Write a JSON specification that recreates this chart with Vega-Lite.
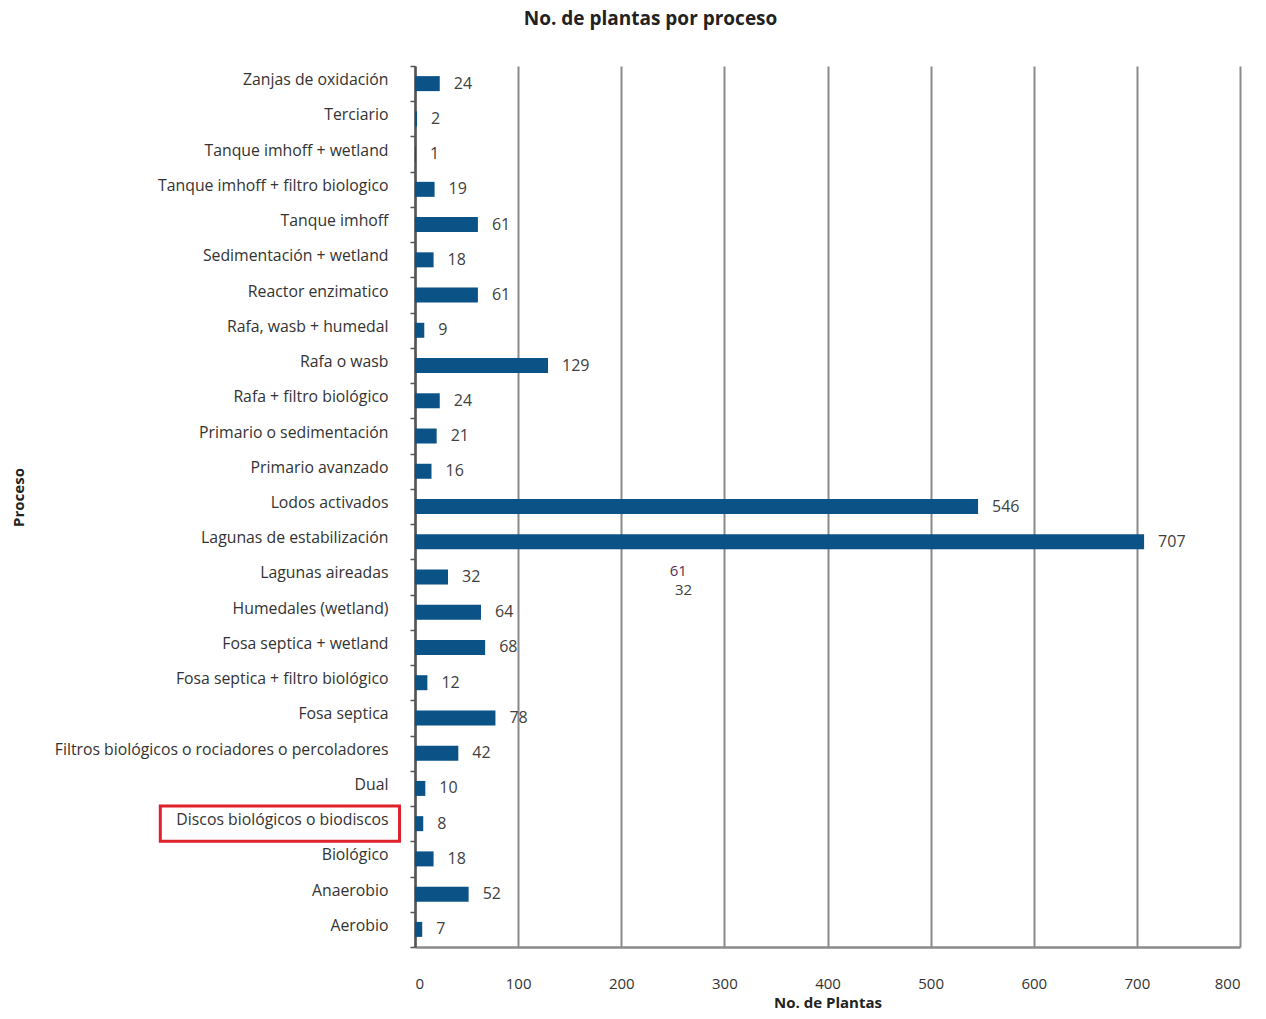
{
  "$schema": "https://vega.github.io/schema/vega-lite/v6.json",
  "width": 825,
  "height": 881,
  "autosize": {"type": "none"},
  "padding": {"left": 415, "top": 66, "right": 26, "bottom": 72},
  "background": "white",
  "config": {
    "font": "Open Sans",
    "view": {"stroke": null}
  },
  "title": {
    "text": "No. de plantas por proceso",
    "font": "Open Sans",
    "fontSize": 19,
    "fontWeight": "bold",
    "color": "#222222",
    "anchor": "middle",
    "dx": -177,
    "offset": 29
  },
  "data": {
    "values": [
      {"proceso": "Zanjas de oxidación", "plantas": 24},
      {"proceso": "Terciario", "plantas": 2},
      {"proceso": "Tanque imhoff + wetland", "plantas": 1},
      {"proceso": "Tanque imhoff + filtro biologico", "plantas": 19},
      {"proceso": "Tanque imhoff", "plantas": 61},
      {"proceso": "Sedimentación  + wetland", "plantas": 18},
      {"proceso": "Reactor enzimatico", "plantas": 61},
      {"proceso": "Rafa, wasb + humedal", "plantas": 9},
      {"proceso": "Rafa o wasb", "plantas": 129},
      {"proceso": "Rafa + filtro biológico", "plantas": 24},
      {"proceso": "Primario o sedimentación", "plantas": 21},
      {"proceso": "Primario avanzado", "plantas": 16},
      {"proceso": "Lodos activados", "plantas": 546},
      {"proceso": "Lagunas de estabilización", "plantas": 707},
      {"proceso": "Lagunas aireadas", "plantas": 32},
      {"proceso": "Humedales (wetland)", "plantas": 64},
      {"proceso": "Fosa septica + wetland", "plantas": 68},
      {"proceso": "Fosa septica + filtro biológico", "plantas": 12},
      {"proceso": "Fosa septica", "plantas": 78},
      {"proceso": "Filtros biológicos o rociadores o percoladores", "plantas": 42},
      {"proceso": "Dual", "plantas": 10},
      {"proceso": "Discos biológicos o biodiscos", "plantas": 8},
      {"proceso": "Biológico", "plantas": 18},
      {"proceso": "Anaerobio", "plantas": 52},
      {"proceso": "Aerobio", "plantas": 7}
    ]
  },
  "encoding": {
    "y": {
      "field": "proceso",
      "type": "nominal",
      "sort": null,
      "scale": {"paddingInner": 0, "paddingOuter": 0},
      "axis": {
        "title": "Proceso",
        "titleFont": "Open Sans",
        "titleFontSize": 15,
        "titleFontWeight": "bold",
        "titleColor": "#222222",
        "titleX": -397,
        "titleY": 431,
        "titleAngle": -90,
        "titleAlign": "center",
        "titleBaseline": "middle",
        "labelFont": "Open Sans",
        "labelFontSize": 15.8,
        "labelColor": "#333333",
        "labelPadding": 22,
        "labelOffset": -4,
        "labelLimit": 500,
        "tickBand": "extent",
        "tickSize": 5,
        "tickColor": "#555555",
        "tickWidth": 1.5,
        "domainColor": "#555555",
        "domainWidth": 2.5,
        "grid": false
      }
    },
    "x": {
      "field": "plantas",
      "type": "quantitative",
      "scale": {"domain": [0, 800], "nice": false},
      "axis": {
        "title": "No. de Plantas",
        "titleFont": "Open Sans",
        "titleFontSize": 15,
        "titleFontWeight": "bold",
        "titleColor": "#222222",
        "titlePadding": 4,
        "values": [0, 100, 200, 300, 400, 500, 600, 700, 800],
        "labelFont": "Open Sans",
        "labelFontSize": 15,
        "labelColor": "#333333",
        "labelPadding": 29,
        "ticks": false,
        "domainColor": "#8a8a8a",
        "domainWidth": 2.5,
        "grid": true,
        "gridColor": "#8a8a8a",
        "gridWidth": 2
      }
    }
  },
  "layer": [
    {
      "mark": {"type": "bar", "color": "#0b5287", "size": 15}
    },
    {
      "mark": {"type": "text", "align": "left", "baseline": "middle", "dx": 14, "fontSize": 16, "color": "#404040", "font": "Open Sans"},
      "encoding": {"text": {"field": "plantas", "type": "quantitative"}}
    },
    {
      "data": {"values": [{"proceso": "Lagunas aireadas", "plantas": 247, "etiqueta": "61"}]},
      "mark": {"type": "text", "align": "left", "baseline": "middle", "dy": -6, "fontSize": 15, "color": "#5a3050", "font": "Open Sans"},
      "encoding": {"text": {"field": "etiqueta", "type": "nominal"}}
    },
    {
      "data": {"values": [{"proceso": "Lagunas aireadas", "plantas": 252, "etiqueta": "32"}]},
      "mark": {"type": "text", "align": "left", "baseline": "middle", "dy": 13, "fontSize": 15, "color": "#404040", "font": "Open Sans"},
      "encoding": {"text": {"field": "etiqueta", "type": "nominal"}}
    },
    {
      "data": {"values": [{"proceso": "Discos biológicos o biodiscos", "desde": -247, "hasta": -15}]},
      "mark": {"type": "rect", "fill": "transparent", "stroke": "#e0202a", "strokeWidth": 3, "clip": false},
      "encoding": {
        "x": {"field": "desde", "type": "quantitative"},
        "x2": {"field": "hasta"}
      }
    }
  ]
}
